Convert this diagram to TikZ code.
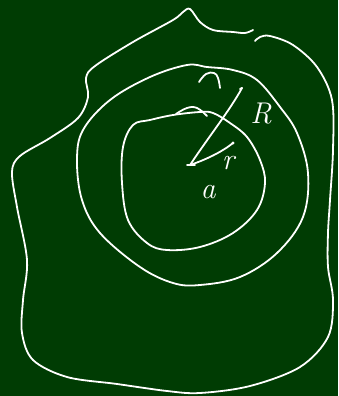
\documentclass[tikz,border=0pt]{standalone}
\usepackage{fontspec}
\begin{document}
\begin{tikzpicture}[x=1pt,y=-1pt]
\definecolor{board}{RGB}{0,60,3}
\tikzset{chalk/.style={draw=white,line width=1.8pt,line cap=round,line join=round},
 lbl/.style={text=white,font=\fontsize{30}{30}\selectfont\itshape,inner sep=0pt}}
\fill[board] (0,0) rectangle (338,396);
\useasboundingbox (0,0) rectangle (338,396);
% outer region
\draw[chalk] plot[smooth,tension=0.55] coordinates {(253,30) (245,33) (233,32) (213,30) (200,22) (190,9) (183,12) (173,20) (133,42) (95,66) (86,78) (88,97) (78,118) (50,138) (20,156) (12,172) (17,207) (27,260) (23,300) (22,333) (33,360) (67,377) (117,384) (167,391) (200,393) (250,386) (300,367) (328,337) (333,300) (328,267) (328,233) (330,200) (333,150) (332,100) (317,67) (293,45) (270,36) (260,37) (255,41)};
% middle circle
\draw[chalk] plot[smooth cycle,tension=0.6] coordinates {(187,65) (150,77) (110,100) (83,130) (77,160) (82,200) (100,233) (140,267) (173,283) (200,285) (240,277) (277,253) (303,217) (308,173) (297,133) (280,107) (257,80) (233,70) (207,67)};
\draw[chalk] plot[smooth,tension=0.7] coordinates {(199,82) (206,74) (214,73) (218,78) (220,88)};
% inner circle
\draw[chalk] plot[smooth cycle,tension=0.6] coordinates {(173,115) (150,120) (133,125) (123,147) (122,183) (128,220) (147,243) (167,250) (200,247) (233,233) (257,210) (265,183) (260,160) (247,137) (230,123) (213,113) (200,112)};
\draw[chalk] plot[smooth,tension=0.7] coordinates {(176,114) (187,108) (197,108) (207,116)};
% radii
\coordinate (c) at (190,165);
\coordinate (Rend) at (242,88);
\coordinate (rend) at (233,143);
\draw[chalk] (c) .. controls (210,135) and (230,110) .. (Rend);
\draw[chalk] (Rend) -- ++(-2,1);
\draw[chalk] (c) .. controls (205,160) and (222,152) .. (rend);
\draw[chalk] (187,165) -- (195,165);
\fill[white] (rend) circle (1.6pt);
% labels
\node[lbl] (lR) at (261,114) {R};
\node[lbl] (lr) at (228,163) {r};
\node[lbl] (la) at (208,192) {a};
\end{tikzpicture}
\end{document}
